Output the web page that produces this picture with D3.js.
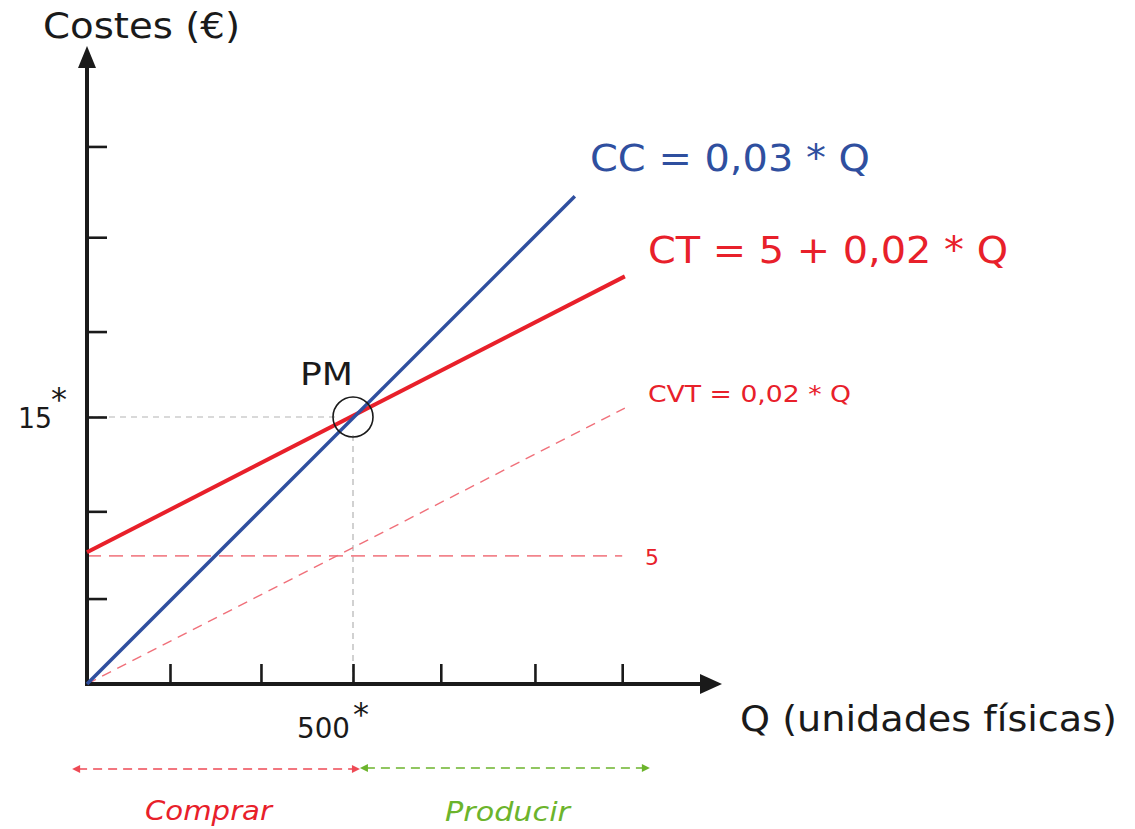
<!DOCTYPE html>
<html><head><meta charset="utf-8">
<script src="https://cdn.jsdelivr.net/npm/d3@7"></script>
<style>body{margin:0;background:#fff}svg{display:block}text{font-family:"DejaVu Sans",Verdana,sans-serif}</style>
</head><body>
<svg id="c" width="1135" height="829"></svg>
<script>
// ---- data (chart units) ----
const xTickValues = [156, 327, 500, 665, 842, 1006];
const yTickValues = [4.8, 9.7, 15, 19.8, 25.1, 30.2];
const ccLine  = [{q:0, c:0}, {q:917, c:27.4}];        // CC = 0,03 * Q
const ctLine  = [{q:0, c:7.4}, {q:1011, c:22.9}];     // CT = 5 + 0,02 * Q
const cvtLine = [{q:0, c:0}, {q:1011, c:15.5}];       // CVT = 0,02 * Q
const fixedLine = [{q:0, c:7.2}, {q:1006, c:7.2}];    // 5
const pm = {q:500, c:15};
const comprarRange = [-28, 513];
const producirRange = [513, 1058];
const labels = {
  yTitle:"Costes (€)", xTitle:"Q (unidades físicas)",
  cc:"CC = 0,03 * Q", ct:"CT = 5 + 0,02 * Q", cvt:"CVT = 0,02 * Q", fixed:"5",
  pm:"PM", yStar:"15", xStar:"500", comprar:"Comprar", producir:"Producir"
};

const svg = d3.select("#c");
const x = d3.scaleLinear().domain([0, 1000]).range([87, 619]);
const y = d3.scaleLinear().domain([0, 15]).range([684, 417]);
const line = d3.line().x(d => x(d.q)).y(d => y(d.c));

const BLUE="#2f4f9f", RED="#e8202a", PALERED="#f0707a", GREEN="#6cb42c", AX="#1a1a1a";

// guide lines
svg.append("line").attr("x1", x(0)).attr("x2", x(pm.q)-14).attr("y1", y(pm.c)).attr("y2", y(pm.c))
  .attr("stroke","#b3b3b3").attr("stroke-width",1.2).attr("stroke-dasharray","6,5");
svg.append("line").attr("x1", x(pm.q)).attr("x2", x(pm.q)).attr("y1", y(pm.c)+18).attr("y2", y(0))
  .attr("stroke","#b3b3b3").attr("stroke-width",1.2).attr("stroke-dasharray","6,5");

// dashed cost lines
svg.append("path").attr("d", line(fixedLine)).attr("fill","none").attr("stroke","#f2848c")
  .attr("stroke-width",1.6).attr("stroke-dasharray","14,8");
svg.append("path").attr("d", line(cvtLine)).attr("fill","none").attr("stroke",PALERED)
  .attr("stroke-width",1.4).attr("stroke-dasharray","10,7");

// axes (D3 axis generators for ticks)
const xAxis = d3.axisTop(x).tickValues(xTickValues).tickSize(20).tickFormat("");
const gx = svg.append("g").attr("transform",`translate(0,${y(0)})`).call(xAxis);
gx.select(".domain").remove();
gx.selectAll(".tick line").attr("stroke",AX).attr("stroke-width",2.6);
const yAxis = d3.axisRight(y).tickValues(yTickValues).tickSize(20).tickFormat("");
const gy = svg.append("g").attr("transform",`translate(${x(0)},0)`).call(yAxis);
gy.select(".domain").remove();
gy.selectAll(".tick line").attr("stroke",AX).attr("stroke-width",2.6);

svg.append("line").attr("x1", x(0)-2).attr("x2", 704).attr("y1", y(0)).attr("y2", y(0)).attr("stroke",AX).attr("stroke-width",4);
svg.append("path").attr("d",`M722,${y(0)} L700,${y(0)-10} L700,${y(0)+10} Z`).attr("fill",AX);
svg.append("line").attr("x1", x(0)).attr("x2", x(0)).attr("y1", y(0)+2).attr("y2", 64).attr("stroke",AX).attr("stroke-width",4);
svg.append("path").attr("d",`M${x(0)},46 L${x(0)-9},68 L${x(0)+9},68 Z`).attr("fill",AX);

// main lines
svg.append("path").attr("d", line(ctLine)).attr("fill","none").attr("stroke",RED).attr("stroke-width",4);
svg.append("path").attr("d", line(ccLine)).attr("fill","none").attr("stroke",BLUE).attr("stroke-width",3.5);

// PM circle
svg.append("circle").attr("cx", x(pm.q)).attr("cy", y(pm.c)).attr("r",20)
  .attr("fill","none").attr("stroke",AX).attr("stroke-width",1.6);

// texts
const T = (t, px, py, size, fill, len, opts={}) => {
  const e = svg.append("text").attr("x",px).attr("y",py).attr("font-size",size).attr("fill",fill).text(t);
  if (len) e.attr("textLength", len).attr("lengthAdjust","spacingAndGlyphs");
  if (opts.anchor) e.attr("text-anchor",opts.anchor);
  if (opts.italic) e.attr("font-style","italic");
  return e;
};
T(labels.yTitle, 43, 38, 36, AX, 197);
T(labels.xTitle, 740, 731, 35, AX, 377);
T(labels.cc, 590, 171, 37, BLUE, 280);
T(labels.ct, 648, 263, 38, RED, 360);
T(labels.cvt, 648, 402, 23, RED, 203);
T(labels.fixed, 645, 565, 22, RED);
T(labels.pm, 300, 385, 32, AX, 53);
T(labels.yStar, 18, 428, 28, AX, 34);
T("*", 51, 410, 32, AX);
T(labels.xStar, 297, 738, 28, AX, 53);
T("*", 353, 725, 32, AX);

// bottom range arrows
function rangeArrow(r, color, yy) {
  const a = x(r[0]), b = x(r[1]);
  svg.append("line").attr("x1",a+6).attr("x2",b-6).attr("y1",yy).attr("y2",yy)
    .attr("stroke",color).attr("stroke-width",1.6).attr("stroke-dasharray","9,6");
  svg.append("path").attr("d",`M${a},${yy} L${a+8},${yy-4} L${a+8},${yy+4} Z`).attr("fill",color);
  svg.append("path").attr("d",`M${b},${yy} L${b-8},${yy-4} L${b-8},${yy+4} Z`).attr("fill",color);
}
rangeArrow(comprarRange, "#ee4a55", 769);
rangeArrow(producirRange, GREEN, 768);
T(labels.comprar, 145, 820, 26, RED, 127, {italic:true});
T(labels.producir, 445, 821, 26, GREEN, 125, {italic:true});
</script>
</body></html>
